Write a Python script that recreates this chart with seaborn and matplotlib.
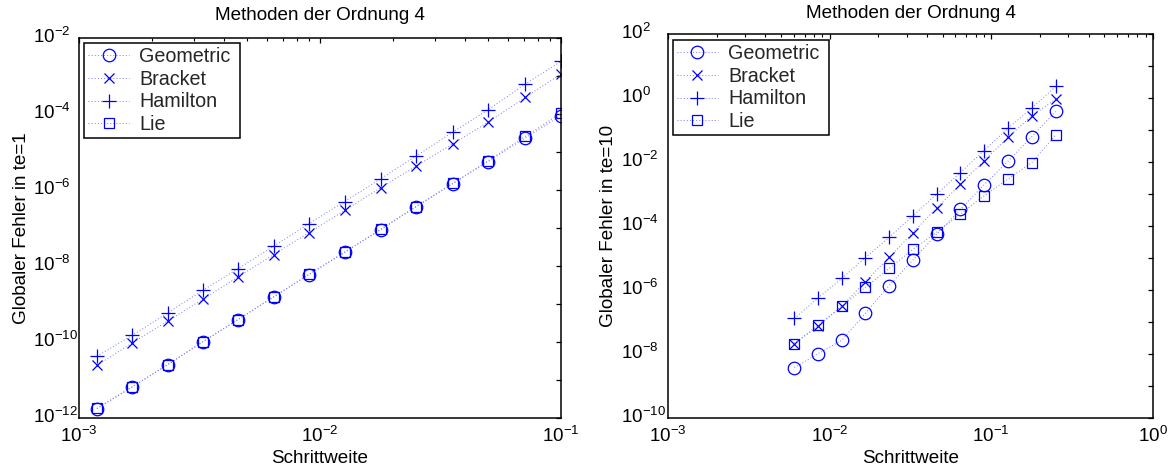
import matplotlib
matplotlib.use('Agg')
import matplotlib.pyplot as plt
import matplotlib.transforms as mtrans
import seaborn as sns
from matplotlib.ticker import LogLocator, NullLocator, NullFormatter

# ---------------- data ----------------
series_names = ['Geometric', 'Bracket', 'Hamilton', 'Lie']

h_left = [1.187e-3, 1.661e-3, 2.33e-3, 3.26e-3, 4.56e-3, 6.42e-3, 8.98e-3,
          1.266e-2, 1.783e-2, 2.494e-2, 3.55e-2, 4.99e-2, 7.12e-2, 0.1]
geo_left = [1.76e-12, 6.5e-12, 2.5e-11, 1.0e-10, 3.85e-10, 1.52e-9, 5.9e-9,
            2.27e-8, 8.95e-8, 3.53e-7, 1.45e-6, 5.6e-6, 2.35e-5, 9.1e-5]
bracket_left = [2.43e-11, 9.4e-11, 3.55e-10, 1.32e-9, 5.1e-9, 2.0e-8, 7.5e-8,
                2.9e-7, 1.14e-6, 4.2e-6, 1.63e-5, 6.1e-5, 2.75e-4, 1.13e-3]
hamilton_left = [4.2e-11, 1.49e-10, 5.8e-10, 2.28e-9, 8.4e-9, 3.3e-8, 1.29e-7,
                 4.98e-7, 1.96e-6, 7.7e-6, 3.3e-5, 1.3e-4, 6.2e-4, 2.43e-3]
lie_left = [1.8e-12, 6.6e-12, 2.55e-11, 1.02e-10, 3.9e-10, 1.55e-9, 6.0e-9,
            2.35e-8, 9.2e-8, 3.65e-7, 1.5e-6, 5.9e-6, 2.6e-5, 1.05e-4]

h_right = [6.05e-3, 8.5e-3, 1.19e-2, 1.66e-2, 2.33e-2, 3.27e-2, 4.58e-2,
           6.44e-2, 9.0e-2, 0.127, 0.178, 0.25]
geo_right = [3.76e-9, 1.03e-8, 2.7e-8, 1.85e-7, 1.36e-6, 8.6e-6, 5.5e-5,
             3.3e-4, 1.92e-3, 1.06e-2, 6.25e-2, 0.38]
bracket_right = [2.12e-8, 7.4e-8, 3.13e-7, 1.81e-6, 1.04e-5, 6.2e-5, 3.57e-4,
                 2.01e-3, 1.08e-2, 5.97e-2, 0.277, 0.92]
hamilton_right = [1.29e-7, 5.7e-7, 2.3e-6, 1.02e-5, 4.4e-5, 2.06e-4, 9.8e-4,
                  4.67e-3, 2.28e-2, 0.114, 0.48, 2.3]
lie_right = [2.12e-8, 7.96e-8, 3.13e-7, 1.2e-6, 4.7e-6, 1.86e-5, 6.3e-5,
             2.37e-4, 8.7e-4, 2.96e-3, 9.6e-3, 7.06e-2]

title_text = 'Methoden der Ordnung 4'
xlabel_text = 'Schrittweite'
ylabel_left = 'Globaler Fehler in te=1'
ylabel_right = 'Globaler Fehler in te=10'

xticks_left = [1e-3, 1e-2, 1e-1]
xticklabels_left = ['$10^{-3}$', '$10^{-2}$', '$10^{-1}$']
yticks_left = [1e-12, 1e-11, 1e-10, 1e-9, 1e-8, 1e-7, 1e-6, 1e-5, 1e-4, 1e-3, 1e-2]
yticklabels_left = ['$10^{-12}$', '', '$10^{-10}$', '', '$10^{-8}$', '',
                    '$10^{-6}$', '', '$10^{-4}$', '', '$10^{-2}$']

xticks_right = [1e-3, 1e-2, 1e-1, 1e0]
xticklabels_right = ['$10^{-3}$', '$10^{-2}$', '$10^{-1}$', '$10^{0}$']
yticks_right = [1e-10, 1e-9, 1e-8, 1e-7, 1e-6, 1e-5, 1e-4, 1e-3, 1e-2, 1e-1, 1e0, 1e1, 1e2]
yticklabels_right = ['$10^{-10}$', '', '$10^{-8}$', '', '$10^{-6}$', '', '$10^{-4}$',
                     '', '$10^{-2}$', '', '$10^{0}$', '', '$10^{2}$']

# ---------------- style ----------------
sns.set_theme(style='white')
plt.rcParams['font.family'] = ['Liberation Sans', 'DejaVu Sans']
plt.rcParams['mathtext.fontset'] = 'custom'
plt.rcParams['mathtext.rm'] = 'Liberation Sans'
plt.rcParams['mathtext.it'] = 'Liberation Sans:italic'
plt.rcParams['mathtext.bf'] = 'Liberation Sans:bold'
plt.rcParams['axes.unicode_minus'] = True

FS = 13.6
LFS = 14.2
marker_specs = {'Geometric': ('o', 9.0), 'Bracket': ('x', 7.5),
                'Hamilton': ('+', 10.0), 'Lie': ('s', 7.2)}

W, H = 1174, 473
fig = plt.figure(figsize=(W / 100, H / 100), dpi=100)
ax1 = fig.add_axes([79 / W, 1 - 418 / H, (561 - 79) / W, (418 - 38) / H])
ax2 = fig.add_axes([668 / W, 1 - 418 / H, (1153 - 668) / W, (418 - 34) / H])


def draw(ax, h, series, xlim, ylim, xticks, xtl, yticks, ytl, ylabel,
         title_y, xl_y, yl_x, ypad, leg_box):
    for name, vals in zip(series_names, series):
        m, ms = marker_specs[name]
        sns.lineplot(x=h, y=vals, ax=ax, estimator=None, sort=False,
                     marker=m, markersize=ms, markerfacecolor='none',
                     markeredgecolor='#0000ff', markeredgewidth=0.9,
                     color='#7a7aff', linewidth=0.7, linestyle=(0, (1, 2.2)),
                     label=name)
    ax.set_xscale('log')
    ax.set_yscale('log')
    ax.set_xlim(*xlim)
    ax.set_ylim(*ylim)
    ax.set_xticks(xticks, xtl)
    ax.set_yticks(yticks, ytl)
    ax.xaxis.set_minor_locator(LogLocator(base=10, subs=range(2, 10), numticks=50))
    ax.xaxis.set_minor_formatter(NullFormatter())
    ax.yaxis.set_minor_locator(NullLocator())
    ax.tick_params(which='both', direction='in', top=True, right=True,
                   color='black', labelsize=FS, labelcolor='black')
    ax.tick_params(which='major', length=3.5, width=0.9)
    ax.tick_params(which='minor', length=2.2, width=0.8)
    ax.tick_params(axis='x', pad=6.0)
    ax.tick_params(axis='y', pad=ypad)
    off = mtrans.ScaledTranslation(0, 2.0 / 72, fig.dpi_scale_trans)
    for lbl in ax.get_yticklabels():
        lbl.set_horizontalalignment('left')
        lbl.set_transform(lbl.get_transform() + off)
    for sp in ax.spines.values():
        sp.set_color('black')
        sp.set_linewidth(1.1)
        sp.set_visible(True)
    ax.set_facecolor('white')
    ax.grid(False)
    ax.set_title(title_text, fontsize=FS, color='black', y=title_y, pad=0, va='center')
    ax.set_xlabel(xlabel_text, fontsize=FS, color='black', va='center')
    ax.xaxis.set_label_coords(0.5, xl_y)
    ax.set_ylabel(ylabel, fontsize=FS, color='black', va='center')
    ax.yaxis.set_label_coords(yl_x, 0.5)
    leg = ax.legend(loc='upper left', bbox_to_anchor=leg_box, mode='expand',
                    fontsize=LFS, frameon=True, fancybox=False,
                    framealpha=1, edgecolor='black', borderaxespad=0.0,
                    handlelength=2.1, handletextpad=0.5, borderpad=0.2,
                    labelspacing=0.19, numpoints=1)
    leg.get_frame().set_linewidth(1.1)


draw(ax1, h_left, [geo_left, bracket_left, hamilton_left, lie_left],
     (1e-3, 1e-1), (1e-12, 1e-2), xticks_left, xticklabels_left,
     yticks_left, yticklabels_left, ylabel_left,
     (418 - 16) / 380, (418 - 458) / 380, (21.6 - 79) / 482, 33.0,
     ((84 - 79) / 482, 0.0, 156 / 482, (418 - 43) / 380))
draw(ax2, h_right, [geo_right, bracket_right, hamilton_right, lie_right],
     (1e-3, 1e0), (1e-10, 1e2), xticks_right, xticklabels_right,
     yticks_right, yticklabels_right, ylabel_right,
     (418 - 13) / 384, (418 - 458) / 384, (608.7 - 668) / 485, 33.8,
     ((672.7 - 668) / 485, 0.0, 156.3 / 485, (418 - 40) / 384))

fig.savefig('out.png', dpi=100, facecolor='white')
